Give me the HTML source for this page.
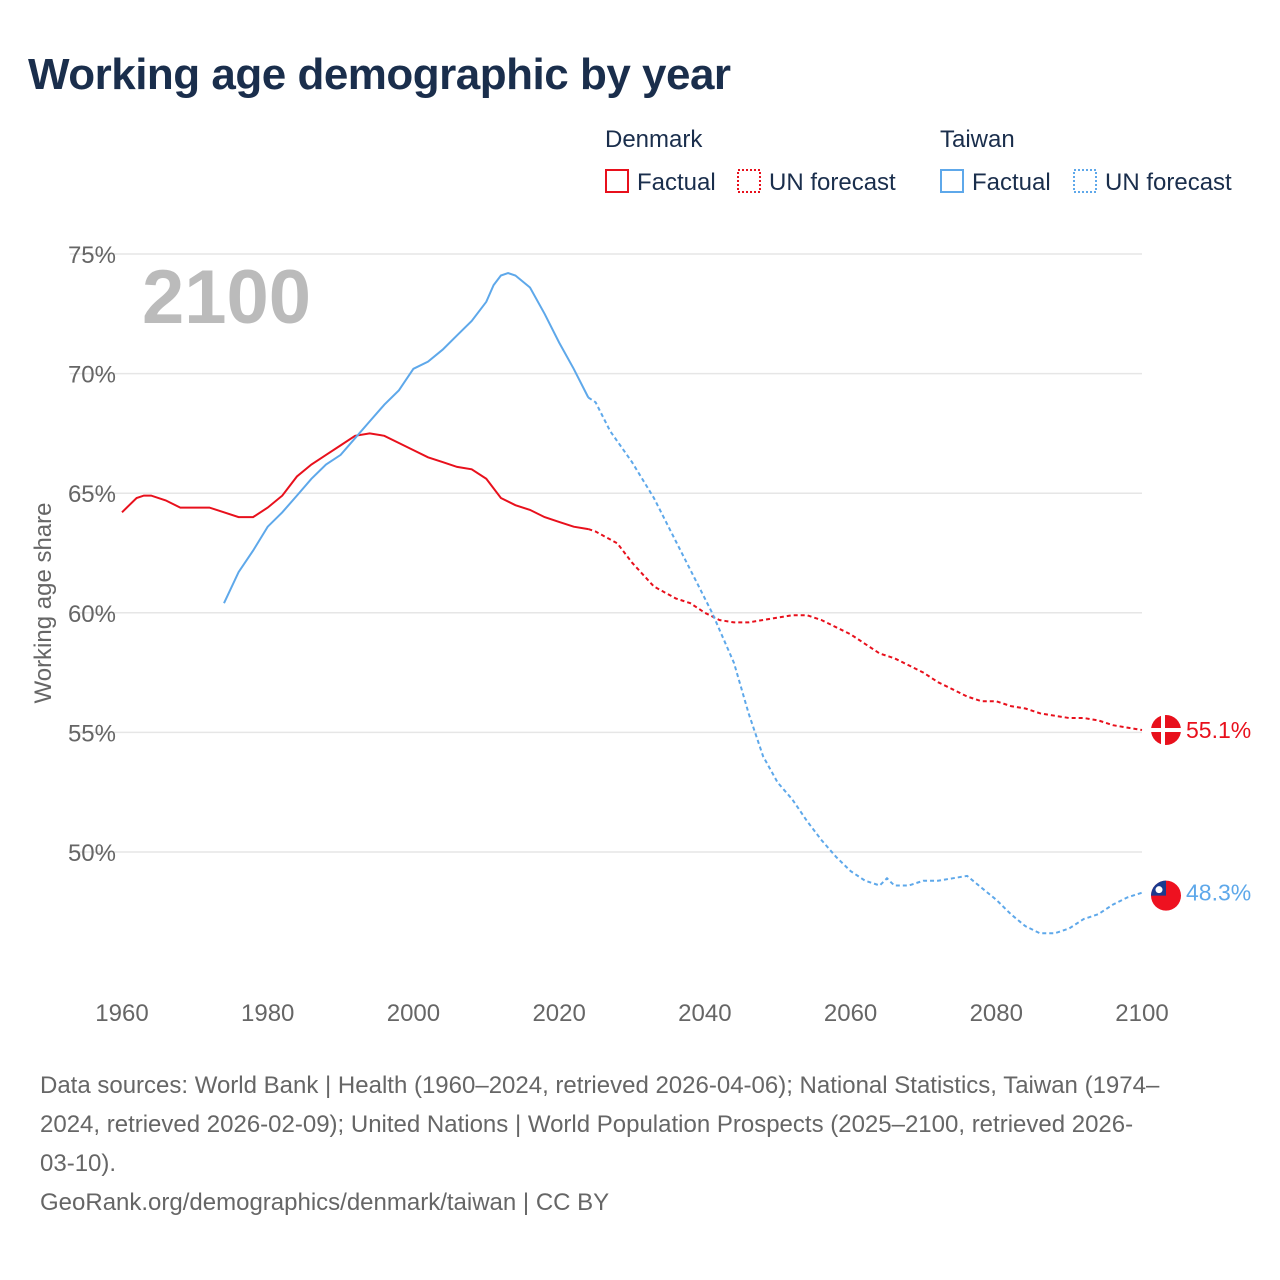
<!DOCTYPE html>
<html><head><meta charset="utf-8">
<style>
body{margin:0;background:#fff;font-family:"Liberation Sans",sans-serif;}
#wrap{position:relative;width:1280px;height:1280px;overflow:hidden;}
h1{position:absolute;left:28px;top:50px;margin:0;font-size:44px;font-weight:700;color:#1a2e4c;letter-spacing:-0.5px;}
.src{position:absolute;left:40px;top:1066px;width:1230px;font-size:24px;line-height:39px;color:#666;white-space:nowrap;}
</style></head><body>
<div id="wrap">
<h1>Working age demographic by year</h1>
<svg id="chart" width="1280" height="1280" style="position:absolute;left:0;top:0"></svg>
<div class="src">Data sources: World Bank | Health (1960–2024, retrieved 2026-04-06); National Statistics, Taiwan (1974–<br>2024, retrieved 2026-02-09); United Nations | World Population Prospects (2025–2100, retrieved 2026-<br>03-10).<br>GeoRank.org/demographics/denmark/taiwan | CC BY</div>
</div>
<script>
const yTicks=[50,55,60,65,70,75];
const xTicks=[1960,1980,2000,2020,2040,2060,2080,2100];
const dkYears=[1960,1962,1963,1964,1966,1968,1970,1972,1974,1976,1978,1980,1982,1984,1986,1988,1990,1992,1994,1996,1998,2000,2002,2004,2006,2008,2010,2012,2014,2016,2018,2020,2022,2024];
const dkVals=[64.2,64.8,64.9,64.9,64.7,64.4,64.4,64.4,64.2,64.0,64.0,64.4,64.9,65.7,66.2,66.6,67.0,67.4,67.5,67.4,67.1,66.8,66.5,66.3,66.1,66.0,65.6,64.8,64.5,64.3,64.0,63.8,63.6,63.5];
const dkFYears=[2024,2025,2028,2030,2033,2036,2038,2040,2042,2044,2046,2048,2050,2052,2054,2056,2058,2060,2062,2064,2066,2068,2070,2072,2074,2076,2078,2080,2082,2084,2086,2088,2090,2092,2094,2096,2098,2100];
const dkFVals=[63.5,63.4,62.9,62.1,61.1,60.6,60.4,60.0,59.7,59.6,59.6,59.7,59.8,59.9,59.9,59.7,59.4,59.1,58.7,58.3,58.1,57.8,57.5,57.1,56.8,56.5,56.3,56.3,56.1,56.0,55.8,55.7,55.6,55.6,55.5,55.3,55.2,55.1];
const twYears=[1974,1976,1978,1980,1982,1984,1986,1988,1990,1992,1994,1996,1998,2000,2002,2004,2006,2008,2010,2011,2012,2013,2014,2016,2018,2020,2022,2024];
const twVals=[60.4,61.7,62.6,63.6,64.2,64.9,65.6,66.2,66.6,67.3,68.0,68.7,69.3,70.2,70.5,71.0,71.6,72.2,73.0,73.7,74.1,74.2,74.1,73.6,72.5,71.3,70.2,69.0];
const twFYears=[2024,2025,2027,2030,2033,2036,2039,2041,2044,2046,2048,2050,2052,2054,2056,2058,2060,2062,2064,2065,2066,2068,2070,2072,2074,2076,2078,2080,2082,2084,2086,2088,2090,2092,2094,2096,2098,2100];
const twFVals=[69.0,68.8,67.6,66.3,64.8,63.0,61.2,60.0,57.9,55.8,54.0,52.9,52.2,51.3,50.5,49.8,49.2,48.8,48.6,48.9,48.6,48.6,48.8,48.8,48.9,49.0,48.5,48.0,47.4,46.9,46.6,46.6,46.8,47.2,47.4,47.8,48.1,48.3];

const X=y=>122+(y-1960)*(1142-122)/140;
const Y=v=>852-(v-50)*(852-254)/25;
const svg=document.getElementById('chart');
const NS='http://www.w3.org/2000/svg';
function mk(t,a,p){const e=document.createElementNS(NS,t);for(const k in a)e.setAttribute(k,a[k]);(p||svg).appendChild(e);return e;}
function txt(x,y,s,a){const e=mk('text',Object.assign({x:x,y:y},a));e.textContent=s;return e;}

yTicks.forEach(v=>{
 const l=mk('line',{x1:70,x2:1142,y1:Y(v),y2:Y(v),stroke:'#e6e6e6','stroke-width':1.5});
 
 
 const t=txt(116,Y(v)+9,v+'%',{'text-anchor':'end','font-size':24,fill:'#666','font-family':'Liberation Sans, sans-serif'});
 
 
});
xTicks.forEach(y=>{
 const t=txt(X(y),1021,String(y),{'text-anchor':'middle','font-size':24,fill:'#666','font-family':'Liberation Sans, sans-serif'});
 
 
});
const yt=txt(0,0,'Working age share',{transform:'translate(51,603) rotate(-90)','text-anchor':'middle','font-size':24,fill:'#666','font-family':'Liberation Sans, sans-serif'});


const yr=txt(142,323,'2100',{'font-size':76,'font-weight':700,fill:'#bbb','font-family':'Liberation Sans, sans-serif'});



function line(xs,vs,color,dash,name){
 const d=xs.map((x,i)=>(i?'L':'M')+X(x).toFixed(1)+','+Y(vs[i]).toFixed(1)).join('');
 const a={d:d,fill:'none',stroke:color,'stroke-width':2};
 if(dash)a['stroke-dasharray']='4,3';
 const p=mk('path',a);
 
 
}
line(dkYears,dkVals,'#e8101c',false,'denmark-factual-line');
line(dkFYears,dkFVals,'#e8101c',true,'denmark-forecast-line');
line(twYears,twVals,'#5ea8ea',false,'taiwan-factual-line');
line(twFYears,twFVals,'#5ea8ea',true,'taiwan-forecast-line');

const dkL=dkFVals[dkFVals.length-1], twL=twFVals[twFVals.length-1];
const g1=mk('g',{});


mk('circle',{cx:1166,cy:Y(dkL),r:15,fill:'#e8101c'},g1);
mk('rect',{x:1161,y:Y(dkL)-15,width:4,height:30,fill:'#fff'},g1);
mk('rect',{x:1151,y:Y(dkL)-2,width:30,height:4,fill:'#fff'},g1);
const l1=txt(1186,Y(dkL)+8,dkL.toFixed(1)+'%',{'font-size':23,fill:'#e8101c','font-family':'Liberation Sans, sans-serif'});


const ty=Y(twL)+3;
const g2=mk('g',{});


mk('circle',{cx:1166,cy:ty,r:15,fill:'#ee1120'},g2);
mk('path',{d:`M1151,${ty} A15,15 0 0 1 1166,${ty-15} L1166,${ty} Z`,fill:'#1a3a8f'},g2);
mk('circle',{cx:1159,cy:ty-6,r:3.5,fill:'#fff'},g2);
const l2=txt(1186,Y(twL)+8,twL.toFixed(1)+'%',{'font-size':23,fill:'#5ea8ea','font-family':'Liberation Sans, sans-serif'});



function lg(x,label,color,dash,name){
 const r=mk('rect',{x:x,y:170,width:22,height:22,fill:'none',stroke:color,'stroke-width':2,'stroke-dasharray':dash?'2,2':'none'});
 
 
 const t=txt(x+31,190,label,{'font-size':24,fill:'#1a2e4c','font-family':'Liberation Sans, sans-serif'});
 
 
}
const h1=txt(605,147,'Denmark',{'font-size':24,fill:'#1a2e4c','font-family':'Liberation Sans, sans-serif'});


const h2=txt(940,147,'Taiwan',{'font-size':24,fill:'#1a2e4c','font-family':'Liberation Sans, sans-serif'});


lg(606,'Factual','#e8101c',false,'legend-denmark-factual');
lg(738,'UN forecast','#e8101c',true,'legend-denmark-forecast');
lg(941,'Factual','#5ea8ea',false,'legend-taiwan-factual');
lg(1074,'UN forecast','#5ea8ea',true,'legend-taiwan-forecast');
</script>
</body></html>
